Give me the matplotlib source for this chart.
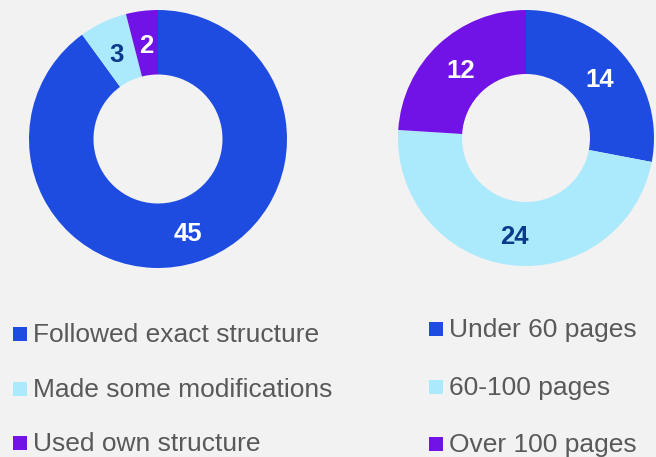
import matplotlib
matplotlib.use("Agg")
import matplotlib.pyplot as plt
from matplotlib.patches import Rectangle
import numpy as np

plt.rcParams['font.family'] = ['Liberation Sans', 'DejaVu Sans']

left_labels = ["Followed exact structure", "Made some modifications", "Used own structure"]
left_values = [45, 3, 2]
right_labels = ["Under 60 pages", "60-100 pages", "Over 100 pages"]
right_values = [14, 24, 12]

colors = ["#1f4ce0", "#abe9fd", "#7113e6"]
text_colors = ["white", "#0b3a8a", "white"]
bg = "#f2f2f2"

W, H = 656, 457
fig = plt.figure(figsize=(W / 100, H / 100), dpi=100, facecolor=bg)


def donut(cx, cy, r, values):
    ax = fig.add_axes([(cx - r) / W, (H - cy - r) / H, 2 * r / W, 2 * r / H])
    ax.set_facecolor(bg)
    wedges, _ = ax.pie(values, radius=1, startangle=90, counterclock=False,
                       colors=colors, wedgeprops=dict(width=0.5, edgecolor='none'))
    for w, v, tc in zip(wedges, values, text_colors):
        mid = np.deg2rad((w.theta1 + w.theta2) / 2)
        ax.annotate(str(v), (0.75 * np.cos(mid), 0.75 * np.sin(mid)),
                    xytext=(0, -2.5), textcoords='offset points',
                    ha='center', va='center',
                    fontsize=18.5, fontweight='bold', color=tc)
    ax.set_xlim(-1, 1)
    ax.set_ylim(-1, 1)
    ax.set_aspect('equal')
    ax.axis('off')
    return ax


donut(158, 139, 129, left_values)
donut(526, 138, 128, right_values)


def legend(labels, mx, tx, baselines):
    for lab, c, b in zip(labels, colors, baselines):
        fig.add_artist(Rectangle((mx / W, (H - b + 1) / H), 14 / W, 14 / H,
                                 transform=fig.transFigure, facecolor=c, edgecolor='none'))
        fig.text(tx / W, (H - b) / H, lab, ha='left', va='baseline',
                 fontsize=19, color='#595959')


legend(left_labels, 13, 33, [342, 397, 451])
legend(right_labels, 429, 449, [337, 395, 452])

fig.savefig("out.png", dpi=100, facecolor=bg)
